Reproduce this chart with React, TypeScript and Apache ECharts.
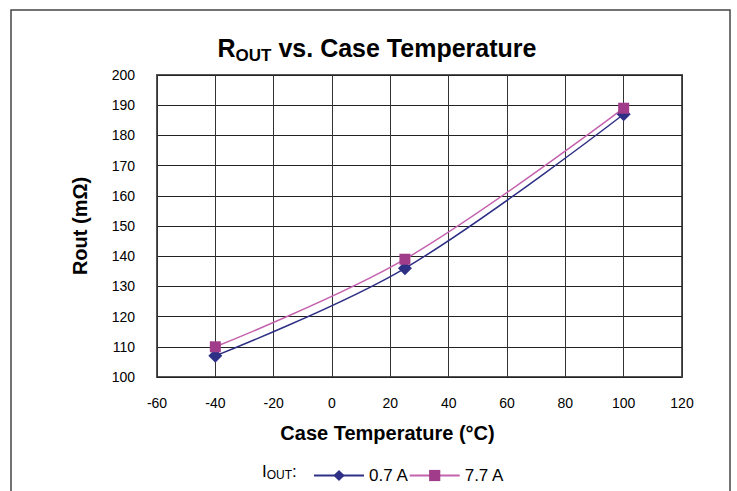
import React, { useEffect, useRef } from "react";
import * as echarts from "echarts";

const temperatures = [-40, 25, 100];
const rout07A = [107, 136, 187];
const rout77A = [110, 139, 189];
const seriesNames = ["0.7 A", "7.7 A"];

const FONT = "'Liberation Sans', Arial, Helvetica, sans-serif";

function measure(text: string, size: number, weight: string) {
  const ctx = document.createElement("canvas").getContext("2d");
  if (!ctx) return text.length * size * 0.6;
  ctx.font = `${weight} ${size}px ${FONT}`;
  return ctx.measureText(text).width;
}

// Builds a run of text pieces (main + subscript) centred on cx or starting at x0
function subscriptText(
  parts: { t: string; size: number; dy: number }[],
  weight: string,
  y: number,
  opts: { cx?: number; x0?: number }
) {
  const widths = parts.map((p) => measure(p.t, p.size, weight));
  const total = widths.reduce((a, b) => a + b, 0);
  let x = opts.cx !== undefined ? opts.cx - total / 2 : (opts.x0 as number);
  return parts.map((p, i) => {
    const el = {
      type: "text",
      x,
      y: y + p.dy,
      silent: true,
      style: {
        text: p.t,
        fontSize: p.size,
        fontWeight: weight,
        fontFamily: FONT,
        fill: "#000",
        align: "left",
        verticalAlign: "middle",
      },
    };
    x += widths[i];
    return el;
  });
}

export default function App() {
  const ref = useRef<HTMLDivElement>(null);
  useEffect(() => {
    const chart = echarts.init(ref.current!, null, { renderer: "svg" });
    const titleEls = subscriptText(
      [
        { t: "R", size: 25, dy: 0 },
        { t: "OUT", size: 17, dy: 7 },
        { t: " vs. Case Temperature", size: 25, dy: 0 },
      ],
      "bold",
      48,
      { cx: 377 }
    );
    const ioutEls = subscriptText(
      [
        { t: "I", size: 17, dy: 0 },
        { t: "OUT", size: 12, dy: 4 },
        { t: ":", size: 17, dy: 0 },
      ],
      "normal",
      471,
      { x0: 262 }
    );
    chart.setOption({
      animation: false,
      backgroundColor: "#fff",
      textStyle: { fontFamily: FONT },
      grid: {
        left: 157,
        right: 55,
        top: 75,
        bottom: 114,
        show: true,
        borderColor: "#555",
        borderWidth: 2,
        backgroundColor: "transparent",
      },
      xAxis: {
        type: "value",
        min: -60,
        max: 120,
        interval: 20,
        name: "Case Temperature (°C)",
        nameLocation: "middle",
        nameGap: 46,
        nameTextStyle: {
          fontSize: 20,
          fontWeight: "bold",
          color: "#000",
          fontFamily: FONT,
          padding: [0, 64, 0, 0],
        },
        axisLine: { show: false },
        axisTick: { show: false },
        axisLabel: { fontSize: 14, color: "#000", margin: 19, fontFamily: FONT },
        splitLine: { show: true, lineStyle: { color: "#333", width: 1 } },
      },
      yAxis: {
        type: "value",
        min: 100,
        max: 200,
        interval: 10,
        name: "Rout (mΩ)",
        nameLocation: "middle",
        nameGap: 67,
        nameTextStyle: { fontSize: 20, fontWeight: "bold", color: "#000", fontFamily: FONT },
        axisLine: { show: false },
        axisTick: { show: false },
        axisLabel: { fontSize: 14, color: "#000", margin: 22, fontFamily: FONT },
        splitLine: { show: true, lineStyle: { color: "#222", width: 1 } },
      },
      legend: {
        left: 308,
        top: 462,
        itemWidth: 50,
        itemHeight: 14,
        itemGap: 0,
        textStyle: { fontSize: 17, color: "#000", fontFamily: FONT },
        data: seriesNames,
      },
      graphic: [
        {
          type: "rect",
          shape: { x: 11, y: 10, width: 719, height: 500 },
          style: { fill: "none", stroke: "#444", lineWidth: 1.5 },
          silent: true,
        },
        ...titleEls,
        ...ioutEls,
      ],
      series: [
        {
          name: seriesNames[0],
          type: "line",
          smooth: 0.35,
          data: temperatures.map((t, i) => [t, rout07A[i]]),
          symbol: "diamond",
          symbolSize: 14,
          lineStyle: { color: "#2e3085", width: 1.5 },
          itemStyle: { color: "#2e3085" },
        },
        {
          name: seriesNames[1],
          type: "line",
          smooth: 0.35,
          data: temperatures.map((t, i) => [t, rout77A[i]]),
          symbol: "rect",
          symbolSize: 11,
          lineStyle: { color: "#c462ae", width: 1.5 },
          itemStyle: { color: "#a03c8a" },
        },
      ],
    });
    return () => chart.dispose();
  }, []);
  return (
    <div
      ref={ref}
      style={{ position: "fixed", left: 0, top: 0, width: 737, height: 491 }}
    />
  );
}
